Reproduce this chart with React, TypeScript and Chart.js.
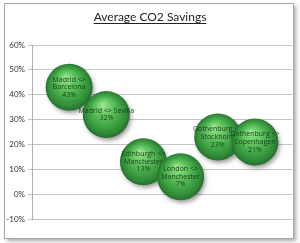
import React, { useEffect, useRef } from 'react';
import { Chart, registerables } from 'chart.js';
Chart.register(...registerables);

const chartTitle = 'Average CO2 Savings';
const routeLabels: string[][] = [
  ['Madrid <>', 'Barcelona'],
  ['Madrid <> Sevilla'],
  ['Edinburgh <>', 'Manchester'],
  ['London <>', 'Manchester'],
  ['Gothenburg <>', 'Stockholm'],
  ['Gothenburg <>', 'Copenhagen'],
];
const savings = [43, 32, 13, 7, 23, 21];
const positions = [1, 2, 3, 4, 5, 6];
const yMin = -10;
const yMax = 60;
const yStep = 10;
const BUBBLE_R = 23.5;

const framePlugin = {
  id: 'frame',
  beforeDraw(chart: any) {
    const ctx = chart.ctx;
    ctx.save();
    ctx.fillStyle = '#ffffff';
    ctx.fillRect(0, 0, chart.width, chart.height);
    ctx.shadowColor = 'rgba(0,0,0,0.35)';
    ctx.shadowBlur = 4;
    ctx.shadowOffsetX = 2;
    ctx.shadowOffsetY = 2;
    ctx.fillStyle = '#ffffff';
    ctx.fillRect(4.5, 3.5, 289, 235);
    ctx.shadowColor = 'transparent';
    ctx.strokeStyle = '#a8a8a8';
    ctx.lineWidth = 1;
    ctx.strokeRect(4.5, 3.5, 289, 235);
    ctx.fillStyle = '#222222';
    ctx.font = '12px Lato, "Open Sans", sans-serif';
    ctx.textAlign = 'center';
    ctx.textBaseline = 'alphabetic';
    const w = ctx.measureText(chartTitle).width;
    ctx.fillText(chartTitle, 150, 21);
    ctx.strokeStyle = '#222222';
    ctx.beginPath();
    ctx.moveTo(150 - w / 2, 23.5);
    ctx.lineTo(150 + w / 2, 23.5);
    ctx.stroke();
    ctx.restore();
  },
};

const bubblePlugin = {
  id: 'bubbleDeco',
  beforeDatasetDraw(chart: any, args: any) {
    const ctx = chart.ctx;
    const meta = args.meta;
    ctx.save();
    meta.data.forEach((el: any) => {
      const r = el.options.radius;
      ctx.shadowColor = 'rgba(0,0,0,0.45)';
      ctx.shadowBlur = 5;
      ctx.shadowOffsetX = 2;
      ctx.shadowOffsetY = 3;
      ctx.fillStyle = '#2a6e30';
      ctx.beginPath();
      ctx.arc(el.x, el.y, Math.max(r - 1, 0), 0, Math.PI * 2);
      ctx.fill();
    });
    ctx.restore();
  },
  afterDatasetDraw(chart: any, args: any) {
    const ctx = chart.ctx;
    const i = args.index;
    const meta = args.meta;
    ctx.save();
    ctx.fillStyle = '#183f1b';
    ctx.font = '7px "Open Sans", Lato, sans-serif';
    ctx.textAlign = 'center';
    ctx.textBaseline = 'middle';
    meta.data.forEach((el: any) => {
      const lines = [...routeLabels[i], savings[i] + '%'];
      const lh = 7.6;
      const start = el.y - ((lines.length - 1) * lh) / 2;
      lines.forEach((t, j) => ctx.fillText(t, el.x, start + j * lh));
    });
    ctx.restore();
  },
};

function sphereFill(c: any) {
  const ch = c.chart;
  const raw = c.raw;
  if (!raw || !ch.scales || !ch.scales.x || !ch.scales.y) return '#3a9a40';
  const cx = ch.scales.x.getPixelForValue(raw.x);
  const cy = ch.scales.y.getPixelForValue(raw.y);
  if (!isFinite(cx) || !isFinite(cy)) return '#3a9a40';
  const r = BUBBLE_R;
  const g = ch.ctx.createRadialGradient(cx - r * 0.15, cy - r * 0.45, 0, cx, cy, r * 1.02);
  g.addColorStop(0, '#a3e696');
  g.addColorStop(0.3, '#6acb66');
  g.addColorStop(0.65, '#40a446');
  g.addColorStop(0.88, '#2f8736');
  g.addColorStop(1, '#25692a');
  return g;
}

export default function App() {
  const ref = useRef<HTMLCanvasElement>(null);
  useEffect(() => {
    if (!ref.current) return;
    const chart = new Chart(ref.current, {
      type: 'bubble',
      data: {
        datasets: savings.map((v, i) => ({
          label: routeLabels[i].join(' '),
          data: [{ x: positions[i], y: v }],
          order: savings.length - i,
          radius: BUBBLE_R,
          borderWidth: 0,
          backgroundColor: sphereFill,
          clip: false,
        })) as any,
      },
      options: {
        responsive: false,
        animation: false,
        events: [],
        layout: { autoPadding: false, padding: { left: 0, top: 45, right: 8, bottom: 24 } },
        plugins: { legend: { display: false }, tooltip: { enabled: false }, title: { display: false } },
        scales: {
          x: { type: 'linear', min: 0, max: 7, display: false },
          y: {
            min: yMin,
            max: yMax,
            afterFit(scale: any) {
              scale.width = 32;
            },
            ticks: {
              stepSize: yStep,
              padding: 3,
              color: '#333333',
              font: { family: 'Lato, "Open Sans", sans-serif', size: 8 },
              callback: (v: any) => v + '%',
            },
            grid: { color: '#c4c4c4', tickLength: 4, lineWidth: 1 },
            border: { color: '#b0b0b0' },
          },
        },
      } as any,
      plugins: [framePlugin, bubblePlugin],
    });
    return () => chart.destroy();
  }, []);
  return (
    <canvas
      ref={ref}
      width={300}
      height={243}
      style={{ position: 'fixed', left: 0, top: 0, width: 300, height: 243 }}
    />
  );
}
